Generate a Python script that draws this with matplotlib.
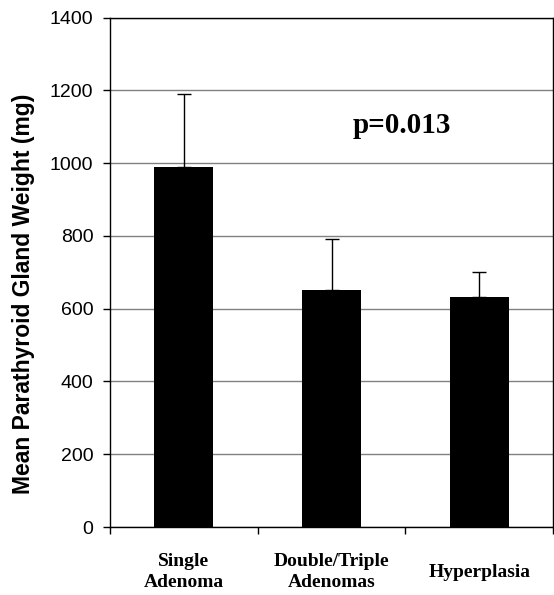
import matplotlib
matplotlib.use("Agg")
import matplotlib.pyplot as plt
from matplotlib.ticker import FixedLocator, NullFormatter

categories = ["Single\nAdenoma", "Double/Triple\nAdenomas", "Hyperplasia"]
means = [988, 650, 633]
err_upper = [202, 140, 67]
yticks = [0, 200, 400, 600, 800, 1000, 1200, 1400]

fig = plt.figure(figsize=(5.54, 5.95), dpi=100)
ax = fig.add_axes([110/554, 68/595, 443/554, 509.5/595])

x = list(range(len(categories)))
ax.bar(x, means, width=0.4, color="black", zorder=3)
ax.errorbar(x, means, yerr=[[0]*len(means), err_upper], fmt="none",
            ecolor="black", elinewidth=1, capsize=5, capthick=1, zorder=4)

ax.set_xlim(-0.5, len(categories) - 0.5)
ax.set_ylim(0, 1400)
ax.set_yticks(yticks)
ax.set_yticklabels([str(v) for v in yticks], fontsize=14, family="Liberation Sans")
ax.yaxis.grid(True, color="#808080", linewidth=1, zorder=0)
ax.set_axisbelow(True)

ax.xaxis.set_major_locator(FixedLocator([i - 0.5 for i in range(len(categories) + 1)]))
ax.xaxis.set_major_formatter(NullFormatter())
for i, c in enumerate(categories):
    ax.text(i, -124, c, ha="center", va="center", fontsize=14, fontweight="bold",
            family="Liberation Serif", linespacing=1.3)

ax.tick_params(axis="both", direction="out", length=5, width=1, color="black")
ax.tick_params(axis="y", pad=7)
for s in ax.spines.values():
    s.set_linewidth(1)
    s.set_color("black")

fig.text(24/554, 1 - 294/595, "Mean Parathyroid Gland Weight (mg)", rotation=90,
         ha="center", va="center", fontsize=16.5, fontweight="bold",
         family="Liberation Sans")

ax.text(1.477, 1102, "p=0.013", ha="center", va="center", fontsize=21,
        fontweight="bold", family="Liberation Serif")

fig.savefig("out.png", dpi=100)
